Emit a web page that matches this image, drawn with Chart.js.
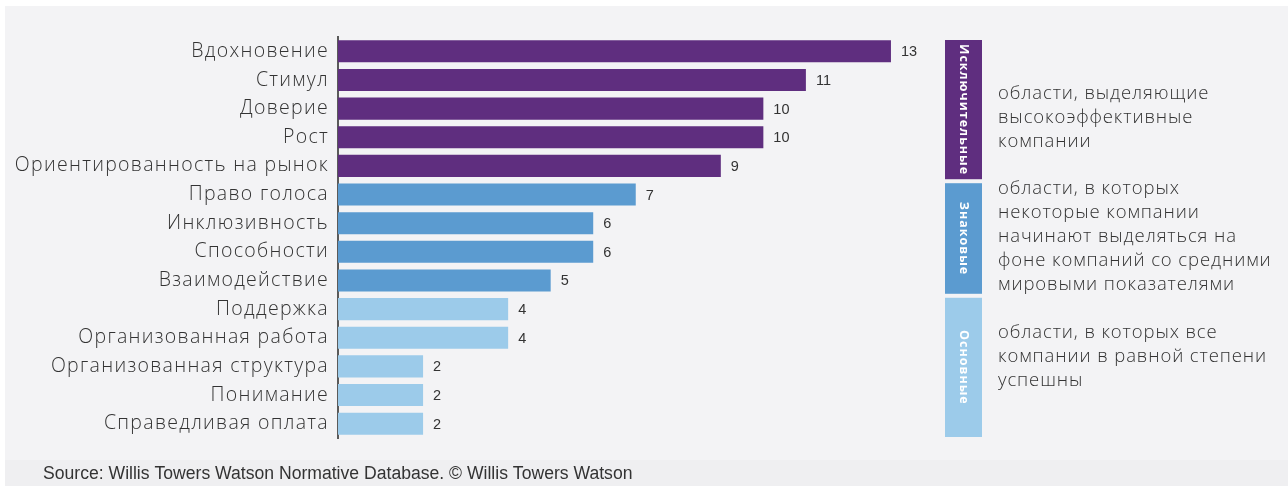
<!DOCTYPE html>
<html>
<head>
<meta charset="utf-8">
<script src="https://cdn.jsdelivr.net/npm/chart.js@4.4.1/dist/chart.umd.min.js"></script>
<style>
  html, body { margin: 0; padding: 0; background: #ffffff; }
  #wrap { width: 1288px; height: 486px; position: relative; }
  canvas { display: block; }
</style>
</head>
<body>
<div id="wrap"><canvas id="c" width="1288" height="486"></canvas></div>
<script>
// ---- data ----
const categories = [
  'Вдохновение', 'Стимул', 'Доверие', 'Рост', 'Ориентированность на рынок',
  'Право голоса', 'Инклюзивность', 'Способности', 'Взаимодействие',
  'Поддержка', 'Организованная работа', 'Организованная структура',
  'Понимание', 'Справедливая оплата'
];
const values = [13, 11, 10, 10, 9, 7, 6, 6, 5, 4, 4, 2, 2, 2];
const groupIndex = [0, 0, 0, 0, 0, 1, 1, 1, 1, 2, 2, 2, 2, 2];
const groupNames = ['Исключительные', 'Знаковые', 'Основные'];
const groupDescriptions = [
  ['области, выделяющие', 'высокоэффективные', 'компании'],
  ['области, в которых', 'некоторые компании', 'начинают выделяться на', 'фоне компаний со средними', 'мировыми показателями'],
  ['области, в которых все', 'компании в равной степени', 'успешны']
];
const sourceText = 'Source: Willis Towers Watson Normative Database. © Willis Towers Watson';

// ---- style ----
const groupColors = ['#5f2e7f', '#5b9bd0', '#9ccbea'];
const textColor = '#333333';
const descOffsets = [8, -2, -11];

const overlay = {
  id: 'overlay',
  beforeDraw(chart) {
    const ctx = chart.ctx;
    ctx.save();
    ctx.fillStyle = '#ffffff';
    ctx.fillRect(0, 0, chart.width, chart.height);
    ctx.fillStyle = '#f3f3f5';
    ctx.fillRect(5, 6, chart.width - 5, 454);
    ctx.fillStyle = '#efeff1';
    ctx.fillRect(5, 460, chart.width - 5, chart.height - 460);
    ctx.restore();
  },
  afterDatasetsDraw(chart) {
    const ctx = chart.ctx;
    const meta = chart.getDatasetMeta(0);
    const ys = chart.scales.y;
    const area = chart.chartArea;
    ctx.save();
    // category labels
    ctx.font = '300 19.5px "Open Sans", sans-serif';
    ctx.letterSpacing = '1.3px';
    ctx.fillStyle = textColor;
    ctx.textAlign = 'right';
    ctx.textBaseline = 'middle';
    categories.forEach((lab, i) => {
      ctx.fillText(lab, area.left - 9, ys.getPixelForValue(i));
    });
    ctx.letterSpacing = '0px';
    // value labels
    ctx.font = '14.5px "Liberation Sans", Arial, sans-serif';
    ctx.fillStyle = textColor;
    ctx.textAlign = 'left';
    ctx.textBaseline = 'middle';
    meta.data.forEach((bar, i) => {
      ctx.fillText(String(values[i]), bar.x + 10, bar.y + 1);
    });
    // group blocks
    const half = (ys.getPixelForValue(1) - ys.getPixelForValue(0)) / 2;
    const bx = 945, bw = 37;
    groupNames.forEach((name, g) => {
      const idx = groupIndex.map((v, i) => v === g ? i : -1).filter(i => i >= 0);
      const first = idx[0], last = idx[idx.length - 1];
      let top = ys.getPixelForValue(first) - half + 3;
      let bottom = Math.min(ys.getPixelForValue(last) + half - 1, area.bottom);
      ctx.fillStyle = groupColors[g];
      ctx.fillRect(bx, top, bw, bottom - top);
      // rotated name
      ctx.save();
      ctx.translate(bx + bw / 2, (top + bottom) / 2);
      ctx.rotate(Math.PI / 2);
      ctx.fillStyle = '#ffffff';
      ctx.font = 'bold 12.5px "Open Sans", sans-serif';
      ctx.letterSpacing = '1px';
      ctx.textAlign = 'center';
      ctx.textBaseline = 'middle';
      ctx.fillText(name, 0, 0);
      ctx.restore();
      // description
      const lines = groupDescriptions[g];
      const lh = 24;
      const cy = (top + bottom) / 2 + descOffsets[g];
      ctx.fillStyle = textColor;
      ctx.font = '300 18.5px "Open Sans", sans-serif';
      ctx.letterSpacing = '0.9px';
      ctx.textAlign = 'left';
      ctx.textBaseline = 'middle';
      lines.forEach((ln, k) => {
        ctx.fillText(ln, 998, cy + (k - (lines.length - 1) / 2) * lh);
      });
      ctx.letterSpacing = '0px';
    });
    // source
    ctx.font = '17.6px "Liberation Sans", Arial, sans-serif';
    ctx.fillStyle = textColor;
    ctx.textAlign = 'left';
    ctx.textBaseline = 'middle';
    ctx.fillText(sourceText, 43, 474);
    ctx.restore();
  }
};

new Chart(document.getElementById('c'), {
  type: 'bar',
  data: {
    labels: categories,
    datasets: [{
      data: values,
      backgroundColor: values.map((v, i) => groupColors[groupIndex[i]]),
      borderWidth: 0,
      barPercentage: 0.77,
      categoryPercentage: 1.0
    }]
  },
  options: {
    indexAxis: 'y',
    responsive: false,
    animation: false,
    devicePixelRatio: 1,
    layout: { padding: { left: 0, right: 354.5, top: 37, bottom: 48 } },
    plugins: { legend: { display: false }, tooltip: { enabled: false } },
    scales: {
      x: { display: false, min: 0, max: 14 },
      y: {
        afterFit(scale) { scale.width = 338; },
        grid: { display: false, drawTicks: false },
        border: { display: true, color: '#5a5a5a', width: 2 },
        ticks: { display: false }
      }
    }
  },
  plugins: [overlay]
});
</script>
</body>
</html>
